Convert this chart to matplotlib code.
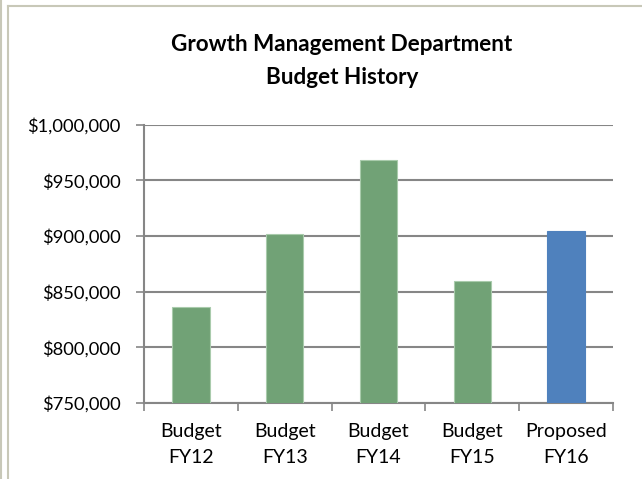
import matplotlib
matplotlib.use("Agg")
import matplotlib.pyplot as plt
from matplotlib.lines import Line2D
from matplotlib.ticker import FuncFormatter
from matplotlib.transforms import blended_transform_factory

categories = ["Budget\nFY12", "Budget\nFY13", "Budget\nFY14", "Budget\nFY15", "Proposed\nFY16"]
values = [836000, 901400, 968400, 859800, 904400]
bar_colors = ["#71A276", "#71A276", "#71A276", "#71A276", "#4F81BD"]
edge_colors = ["#A9CBAC", "#A9CBAC", "#A9CBAC", "#A9CBAC", "#4F81BD"]
yticks = [750000, 800000, 850000, 900000, 950000, 1000000]
title_lines = ["Growth Management Department", "Budget History"]

plt.rcParams['font.family'] = ['Lato', 'DejaVu Sans']

fig = plt.figure(figsize=(6.42, 4.79), dpi=100)
W, H = 642, 479
ax = fig.add_axes([144 / W, 1 - 403 / H, (613 - 144) / W, (403 - 124.5) / H])

x = list(range(len(categories)))
ax.bar(x, values, width=0.4, color=bar_colors, edgecolor=edge_colors, linewidth=0.8, zorder=3)
ax.set_xlim(-0.5, len(categories) - 0.5)
ax.set_ylim(750000, 1000000)
ax.set_yticks(yticks)
ax.yaxis.set_major_formatter(FuncFormatter(lambda v, p: "${:,.0f}".format(v)))
ax.grid(axis='y', color='#868686', linewidth=1.5, zorder=0)
ax.set_axisbelow(True)

for s in ['top', 'right']:
    ax.spines[s].set_visible(False)
for s in ['left', 'bottom']:
    ax.spines[s].set_color('#868686')
    ax.spines[s].set_linewidth(1.5)

ax.set_xticks([i - 0.5 for i in range(len(categories) + 1)])
ax.set_xticklabels([])
ax.tick_params(axis='x', length=6, width=1.2, color='#868686', direction='out')
ax.tick_params(axis='y', length=6, width=1.2, color='#868686', direction='out',
               labelsize=13.2, pad=11)

tr = blended_transform_factory(ax.transData, fig.transFigure)
for i, c in enumerate(categories):
    l1, l2 = c.split("\n")
    ax.text(i, 1 - 437 / H, l1, transform=tr, ha='center', va='baseline', fontsize=14)
    ax.text(i, 1 - 463 / H, l2, transform=tr, ha='center', va='baseline', fontsize=14)

fig.text(342 / W, 1 - 51 / H, title_lines[0], ha='center', va='baseline',
         fontsize=16.2, fontweight='bold')
fig.text(342 / W, 1 - 84 / H, title_lines[1], ha='center', va='baseline',
         fontsize=16.2, fontweight='bold')

# frame lines
border = '#C8C8B8'
fig.add_artist(Line2D([1 / W, 1 / W], [0, 1], transform=fig.transFigure, color=border, lw=1.5))
fig.add_artist(Line2D([8 / W, 8 / W], [0, 1 - 6 / H], transform=fig.transFigure, color=border, lw=1.5))
fig.add_artist(Line2D([8 / W, 1], [1 - 6 / H, 1 - 6 / H], transform=fig.transFigure, color=border, lw=1.5))

fig.savefig("out.png", dpi=100)
